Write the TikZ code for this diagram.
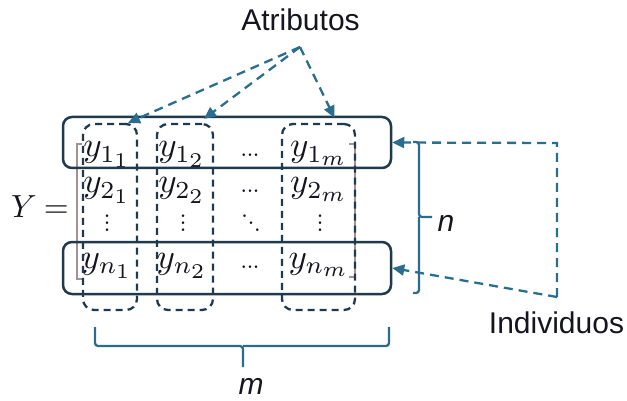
\documentclass[tikz,border=0pt]{standalone}
\usepackage{graphicx}
\usepackage{fontspec}
\setsansfont{Liberation Sans}
\usetikzlibrary{arrows.meta}
\DeclareMathSizes{10}{10}{7}{6}
\definecolor{boxc}{HTML}{1E3A4C}
\definecolor{dashc}{HTML}{2A6E8F}
\definecolor{bracec}{HTML}{2B6C8C}
\definecolor{brk}{HTML}{A89090}
\definecolor{txt}{HTML}{15151F}
\newcommand{\myvd}{\vbox{\baselineskip7pt\lineskiplimit-10pt\lineskip0pt\hbox{.}\hbox{.}\hbox{.}}}
\newcommand{\mydd}{\hbox{\raise14pt\hbox{.}\kern-1.6pt\raise7pt\hbox{.}\kern-1.6pt\hbox{.}}}
\newcommand{\myld}{\hbox{.\kern-1.8pt.\kern-1.8pt.}}
\newcommand{\entmath}[1]{\scalebox{3.5}{$#1$}}
\begin{document}
\begin{tikzpicture}[x=1pt,y=-1pt,
  rowbox/.style={draw=boxc, line width=2.5pt, rounded corners=9pt, inner sep=0pt},
  colbox/.style={draw=boxc, line width=2.3pt, dash pattern=on 7pt off 5pt, rounded corners=11pt, inner sep=0pt},
  link/.style={draw=dashc, line width=2.3pt, dash pattern=on 9pt off 6pt, -{Triangle[length=12pt,width=11pt]}},
  bracesty/.style={draw=bracec, line width=2.3pt, rounded corners=3pt},
  brkline/.style={draw=brk, line width=1.6pt},
  ent/.style={inner sep=0pt, anchor=base, text=txt},
  dotn/.style={font=\fontsize{32}{36}\selectfont, inner sep=0pt, text=txt},
  lab/.style={font=\sffamily\fontsize{30}{36}\selectfont, inner sep=0pt, anchor=base, text=txt}]
\useasboundingbox (0,0) rectangle (627,401);
% matrix bracket
\draw[brkline] (82,144) -- (77,144) -- (77,279) -- (82,279);
\draw[brkline] (349,144) -- (355,144) -- (355,277) -- (349,277);
% Y =
\node[inner sep=0pt, text=txt] (Yeq) at (40,207) {\scalebox{3.2}{$Y\mkern4mu{=}$}};
% entries
\node[ent] (e11) at (107,157) {\entmath{y_{1_1}}};
\node[ent] (e12) at (182,157) {\entmath{y_{1_2}}};
\node[dotn, anchor=base] (e13) at (250,157) {\myld};
\node[ent] (e1m) at (319,157) {\entmath{y_{1_m}}};
\node[ent] (e21) at (107,193) {\entmath{y_{2_1}}};
\node[ent] (e22) at (182,193) {\entmath{y_{2_2}}};
\node[dotn, anchor=base] (e23) at (250,193) {\myld};
\node[ent] (e2m) at (319,193) {\entmath{y_{2_m}}};
\node[dotn] (v1) at (107,223) {\myvd};
\node[dotn] (v2) at (183,223) {\myvd};
\node[dotn] (v3) at (251,223) {\mydd};
\node[dotn] (v4) at (320,223) {\myvd};
\node[ent] (en1) at (107,268) {\entmath{y_{n_1}}};
\node[ent] (en2) at (182,268) {\entmath{y_{n_2}}};
\node[dotn, anchor=base] (en3) at (250,268) {\myld};
\node[ent] (enm) at (319,268) {\entmath{y_{n_m}}};
% row boxes
\node[rowbox, minimum width=328pt, minimum height=51pt] (row1) at (227,142.5) {};
\node[rowbox, minimum width=328pt, minimum height=52pt] (rown) at (227,268) {};
% column boxes
\node[colbox, minimum width=54pt, minimum height=186pt] (c1) at (110,217) {};
\node[colbox, minimum width=56pt, minimum height=186pt] (c2) at (185,217) {};
\node[colbox, minimum width=73pt, minimum height=186pt] (cm) at (318.5,217) {};
% Atributos
\node[lab] (atr) at (300.5,31) {Atributos};
\coordinate (apex) at (300,47);
\draw[link] (apex) -- ([xshift=18pt]c1.north);
\draw[link] (apex) -- ([xshift=19pt,yshift=4pt]c2.north);
\draw[link] (apex) -- ([xshift=16pt,yshift=5pt]cm.north);
% Individuos
\node[lab] (ind) at (556.5,333) {Individuos};
\coordinate (corner) at (557,297);
\coordinate (ctop) at (557,143);
\draw[link] (corner) -- (ctop) -- (row1.east);
\draw[link] (corner) -- (rown.east);
% brace n
\draw[bracesty] (413,142) -| (419,217) -- (432,217);
\draw[bracesty] (413,293) -| (419,217);
\node[lab] (nl) at (446,232) {\itshape n};
% brace m
\draw[bracesty] (95,327) |- (243,346) -- (243,367);
\draw[bracesty] (389,327) |- (243,346);
\node[lab] (ml) at (251,394) {\itshape m};
\end{tikzpicture}
\end{document}
